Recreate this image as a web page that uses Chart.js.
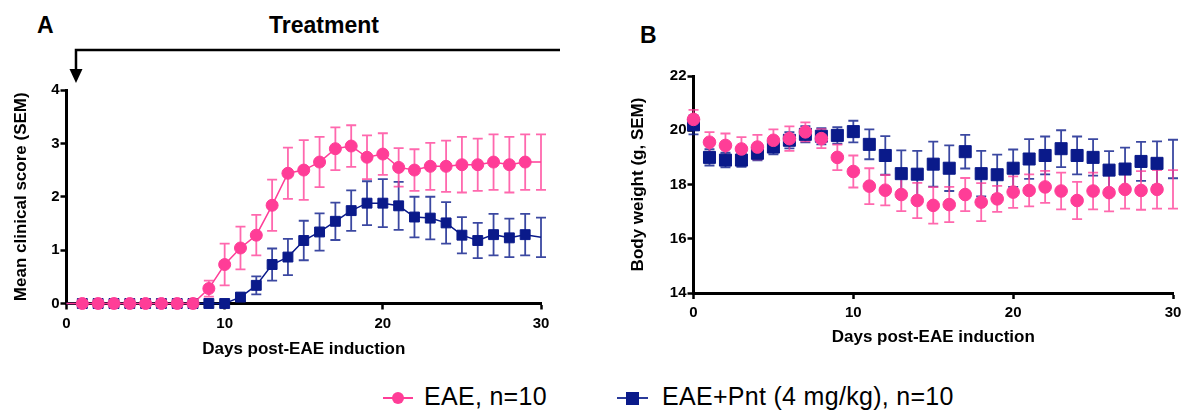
<!DOCTYPE html>
<html>
<head>
<meta charset="utf-8">
<script src="https://cdn.jsdelivr.net/npm/chart.js@4.4.1/dist/chart.umd.min.js"></script>
<style>
  html, body { margin:0; padding:0; background:#fff; }
  body { width:1187px; height:412px; position:relative; overflow:hidden; font-family:'Liberation Sans', Arial, sans-serif; }
  canvas { position:absolute; }
  .lbl { position:absolute; font-weight:bold; font-size:23px; line-height:1; color:#000; white-space:nowrap; }
  .leg { position:absolute; font-size:25px; letter-spacing:0.3px; line-height:1; color:#000; white-space:nowrap; top:384px; }
  .legline { position:absolute; height:2px; top:397px; }
  .legdot { position:absolute; width:12px; height:12px; border-radius:50%; top:392px; }
  .legsq { position:absolute; width:13px; height:13px; top:391.5px; }
</style>
</head>
<body>
<div class="lbl" style="left:37px; top:14px;">A</div>
<div class="lbl" style="left:269px; top:14px;">Treatment</div>
<div class="lbl" style="left:640px; top:24px;">B</div>
<canvas id="cA" width="580" height="370" style="left:0; top:0;"></canvas>
<canvas id="cB" width="587" height="370" style="left:600px; top:0;"></canvas>

<div class="legline" style="left:383px; width:30px; background:#ff3d97;"></div>
<div class="legdot" style="left:392px; background:#ff3d97;"></div>
<div class="leg" style="left:424px;">EAE, n=10</div>
<div class="legline" style="left:617px; width:31px; background:#2a3a9a;"></div>
<div class="legsq" style="left:626px; background:#0a1a8a;"></div>
<div class="leg" style="left:662px;">EAE+Pnt (4 mg/kg), n=10</div>

<script>
// ---------- DATA ----------
const days = [0,1,2,3,4,5,6,7,8,9,10,11,12,13,14,15,16,17,18,19,20,21,22,23,24,25,26,27,28,29,30];

const scoreEAE    = [0,0,0,0,0,0,0,0,0,0.28,0.73,1.04,1.28,1.84,2.44,2.5,2.65,2.9,2.95,2.74,2.8,2.55,2.5,2.57,2.57,2.6,2.6,2.65,2.6,2.65,2.65];
const scoreEAEErr = [0,0,0,0,0,0,0,0,0,0.15,0.39,0.4,0.38,0.48,0.48,0.56,0.47,0.4,0.39,0.41,0.39,0.36,0.39,0.44,0.48,0.52,0.49,0.52,0.52,0.52,0.52];
const scorePnt    = [0,0,0,0,0,0,0,0,0,0,0,0.12,0.34,0.73,0.87,1.18,1.34,1.54,1.74,1.88,1.88,1.83,1.62,1.6,1.51,1.28,1.18,1.29,1.23,1.29,1.24];
const scorePntErr = [0,0,0,0,0,0,0,0,0,0,0,0.07,0.17,0.3,0.34,0.37,0.35,0.35,0.38,0.41,0.45,0.45,0.38,0.4,0.39,0.34,0.33,0.39,0.36,0.39,0.37];

const weightEAE    = [20.4,19.56,19.44,19.31,19.38,19.63,19.69,19.94,19.69,19.0,18.48,17.94,17.79,17.63,17.41,17.23,17.26,17.63,17.35,17.47,17.72,17.78,17.91,17.76,17.41,17.76,17.7,17.82,17.78,17.82,17.82];
const weightEAEErr = [0.35,0.37,0.44,0.44,0.45,0.4,0.45,0.35,0.35,0.47,0.59,0.66,0.56,0.61,0.65,0.67,0.65,0.61,0.7,0.48,0.58,0.59,0.59,0.68,0.69,0.68,0.69,0.71,0.71,0.71,0.71];
const weightPnt    = [20.2,19.0,18.9,18.9,19.15,19.38,19.63,19.85,19.78,19.81,19.95,19.48,19.07,18.4,18.38,18.75,18.6,19.21,18.4,18.36,18.6,18.94,19.07,19.32,19.07,19.0,18.53,18.57,18.85,18.78,18.94];
const weightPntErr = [0.35,0.3,0.27,0.25,0.26,0.27,0.3,0.3,0.3,0.3,0.4,0.55,0.71,0.86,0.86,0.83,0.84,0.62,0.84,0.74,0.69,0.73,0.7,0.68,0.7,0.67,0.7,0.79,0.72,0.81,0.71];

const seriesNames = ['EAE, n=10', 'EAE+Pnt (4 mg/kg), n=10'];
const xTicks = [0,10,20,30];
const scoreTicks = [0,1,2,3,4];
const weightTicks = [14,16,18,20,22];
const treatmentStartDay = 0.6;

// ---------- STYLE ----------
const PINK = '#ff3d97', PINK_ERR = 'rgba(255,61,151,0.78)';
const BLUE = '#0a1a8a', BLUE_ERR = 'rgba(10,26,138,0.8)';
const FONT = "'Liberation Sans', Arial, sans-serif";

const errorBars = {
  id: 'errorBars',
  beforeDatasetsDraw(chart) {
    const {ctx} = chart;
    const xs = chart.scales.x, ys = chart.scales.y;
    const dsList = chart.data.datasets.slice().reverse();
    dsList.forEach(ds => {
      if (!ds.errors) return;
      ctx.save();
      ctx.strokeStyle = ds.errorColor;
      ctx.lineWidth = 1.8;
      ds.data.forEach((p, i) => {
        const e = ds.errors[i];
        if (!e) return;
        const px = xs.getPixelForValue(p.x);
        const top = ys.getPixelForValue(p.y + e);
        const bot = ys.getPixelForValue(p.y - e);
        const cap = 5;
        ctx.beginPath();
        ctx.moveTo(px, top); ctx.lineTo(px, bot);
        ctx.moveTo(px - cap, top); ctx.lineTo(px + cap, top);
        ctx.moveTo(px - cap, bot); ctx.lineTo(px + cap, bot);
        ctx.stroke();
      });
      ctx.restore();
    });
  }
};

const treatmentArrow = {
  id: 'treatmentArrow',
  afterDraw(chart) {
    const {ctx} = chart;
    const x0 = chart.scales.x.getPixelForValue(treatmentStartDay);
    const xEnd = chart.width - 20;
    const yLine = 50;
    ctx.save();
    ctx.strokeStyle = '#000';
    ctx.fillStyle = '#000';
    ctx.lineWidth = 2.5;
    ctx.beginPath();
    ctx.moveTo(xEnd, yLine); ctx.lineTo(x0, yLine); ctx.lineTo(x0, 70);
    ctx.stroke();
    ctx.beginPath();
    ctx.moveTo(x0 - 6.5, 69); ctx.lineTo(x0 + 6.5, 69); ctx.lineTo(x0, 83); ctx.closePath();
    ctx.fill();
    ctx.restore();
  }
};

function pts(vals) { return days.map((d, i) => ({x: d, y: vals[i]})); }

function axisCommon(min, max, step, tickVals, titleText, titlePad, isX, fitSize) {
  return {
    type: 'linear', min, max,
    ticks: {
      stepSize: step, color: '#000', padding: isX ? 5 : 1,
      font: {family: FONT, size: 15, weight: 'bold'},
      maxRotation: 0, autoSkip: false,
      callback: v => tickVals.includes(v) ? String(v) : null
    },
    grid: {drawOnChartArea: false, drawTicks: true, tickLength: 6, tickWidth: 2.5, tickColor: '#000', color: '#000'},
    border: {display: true, color: '#000', width: 3},
    title: {display: true, text: titleText, color: '#000',
            font: {family: FONT, size: 17, weight: 'bold'},
            padding: isX ? {top: 0, bottom: titlePad} : {top: titlePad, bottom: 0}},
    afterFit(s) { if (isX) s.height = fitSize; else s.width = fitSize; }
  };
}

Chart.defaults.font.family = FONT;

new Chart(document.getElementById('cA'), {
  type: 'line',
  data: {
    datasets: [
      {label: seriesNames[0], data: pts(scoreEAE), errors: scoreEAEErr, errorColor: PINK_ERR,
       borderColor: PINK, backgroundColor: PINK, borderWidth: 1.5,
       pointStyle: 'circle', pointRadius: days.map(d => (d === 0 || d === 30) ? 0 : 6),
       pointBorderWidth: 1, pointBorderColor: PINK, pointBackgroundColor: PINK, clip: false},
      {label: seriesNames[1], data: pts(scorePnt), errors: scorePntErr, errorColor: BLUE_ERR,
       borderColor: BLUE, backgroundColor: BLUE, borderWidth: 1.5,
       pointStyle: 'rect', pointRadius: days.map(d => (d === 0 || d === 30) ? 0 : 7),
       pointBorderWidth: 1, pointBorderColor: BLUE, pointBackgroundColor: BLUE, clip: false}
    ]
  },
  options: {
    responsive: false, animation: false, devicePixelRatio: 1,
    layout: {padding: {top: 90, right: 39, bottom: 0, left: 0}},
    plugins: {legend: {display: false}, tooltip: {enabled: false}},
    elements: {line: {tension: 0}},
    scales: {
      x: axisCommon(0, 30, 10, xTicks, 'Days post-EAE induction', 10.8, true, 66.5),
      y: axisCommon(0, 4, 1, scoreTicks, 'Mean clinical score (SEM)', 10.8, false, 66.5)
    }
  },
  plugins: [errorBars, treatmentArrow]
});

new Chart(document.getElementById('cB'), {
  type: 'line',
  data: {
    datasets: [
      {label: seriesNames[0], data: pts(weightEAE), errors: weightEAEErr, errorColor: PINK_ERR,
       showLine: false, borderColor: PINK, backgroundColor: PINK,
       pointStyle: 'circle', pointRadius: days.map(d => d === 30 ? 0 : 6.3),
       pointBorderWidth: 1, pointBorderColor: PINK, pointBackgroundColor: PINK, clip: false},
      {label: seriesNames[1], data: pts(weightPnt), errors: weightPntErr, errorColor: BLUE_ERR,
       showLine: false, borderColor: BLUE, backgroundColor: BLUE,
       pointStyle: 'rect', pointRadius: days.map(d => d === 30 ? 0 : 8.5),
       pointBorderWidth: 1, pointBorderColor: BLUE, pointBackgroundColor: BLUE, clip: false}
    ]
  },
  options: {
    responsive: false, animation: false, devicePixelRatio: 1,
    layout: {padding: {top: 76, right: 14, bottom: 0, left: 0}},
    plugins: {legend: {display: false}, tooltip: {enabled: false}},
    scales: {
      x: axisCommon(0, 30, 10, xTicks, 'Days post-EAE induction', 22.8, true, 77),
      y: axisCommon(14, 22, 2, weightTicks, 'Body weight (g, SEM)', 27.8, false, 93.5)
    }
  },
  plugins: [errorBars]
});
</script>
</body>
</html>
